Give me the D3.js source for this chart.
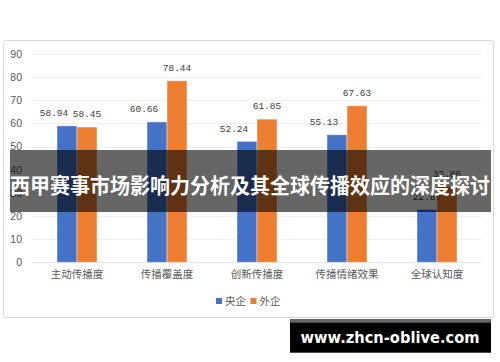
<!DOCTYPE html>
<html>
<head>
<meta charset="utf-8">
<script src="https://cdn.jsdelivr.net/npm/d3@7"></script>
<style>
  html, body { margin: 0; padding: 0; background: #fff; }
  svg { display: block; }
</style>
</head>
<body>
<svg id="chart" width="500" height="362"></svg>
<script>
// data
const categories = ['主动传播度', '传播覆盖度', '创新传播度', '传播情绪效果', '全球认知度']
const seriesNames = ['央企', '外企']
const yangqi = [58.94, 60.66, 52.24, 55.13, 22.87]
const waiqi = [58.45, 78.44, 61.85, 67.63, 32.86]
const yTicks = [0, 10, 20, 30, 40, 50, 60, 70, 80, 90]
const title = '西甲赛事市场影响力分析及其全球传播效应的深度探讨'
const watermark = 'www.zhcn-oblive.com'

const colors = ['#4472C4', '#ED7D31']
const cjk = '"Noto Sans CJK SC", "Noto Sans", sans-serif'
const plot = { left: 32, right: 482, top: 54, bottom: 262.3 }

const svg = d3.select('#chart')

// chart frame
svg.append('rect')
    .attr('x', 3.5).attr('y', 40.5)
    .attr('width', 490).attr('height', 277)
    .attr('rx', 2)
    .attr('fill', '#fff')
    .attr('stroke', '#d9d9d9')

const x = d3.scaleBand()
    .domain(categories)
    .range([plot.left, plot.right])
    .paddingInner(5 / 9)
    .paddingOuter(5 / 18)

const xs = d3.scaleBand()
    .domain(seriesNames)
    .range([0, x.bandwidth()])

const y = d3.scaleLinear()
    .domain([0, 90])
    .range([plot.bottom, plot.top])

// gridlines
svg.append('g')
    .selectAll('line')
    .data(yTicks)
    .join('line')
    .attr('x1', plot.left).attr('x2', plot.right)
    .attr('y1', d => Math.round(y(d)) + 0.5)
    .attr('y2', d => Math.round(y(d)) + 0.5)
    .attr('stroke', d => d === 0 ? '#e6e6e6' : '#f0f0f0')

// y axis labels
const yAxis = svg.append('g')
    .attr('transform', `translate(${plot.left - 10},0)`)
    .call(d3.axisLeft(y).tickValues(yTicks).tickSize(0).tickPadding(0))
yAxis.select('.domain').remove()
yAxis.selectAll('text')
    .attr('fill', '#595959')
    .style('font-family', '"Liberation Sans", Arial, sans-serif')
    .style('font-size', '10.5px')

// x axis labels
const xAxis = svg.append('g')
    .attr('transform', `translate(0,${plot.bottom + 8})`)
    .call(d3.axisBottom(x).tickSize(0).tickPadding(0))
xAxis.select('.domain').remove()
xAxis.selectAll('text')
    .attr('fill', '#595959')
    .style('font-family', cjk)
    .style('font-size', '10.5px')

// bars
const rows = categories.map((c, i) => ({ cat: c, values: [yangqi[i], waiqi[i]] }))

const groups = svg.append('g')
    .selectAll('g')
    .data(rows)
    .join('g')
    .attr('transform', d => `translate(${x(d.cat)},0)`)

groups.selectAll('rect')
    .data(d => d.values.map((v, j) => ({ key: seriesNames[j], value: v, j })))
    .join('rect')
    .attr('x', d => xs(d.key))
    .attr('y', d => y(d.value))
    .attr('width', xs.bandwidth())
    .attr('height', d => plot.bottom - y(d.value))
    .attr('fill', d => colors[d.j])
    .attr('stroke', '#fff')
    .attr('stroke-opacity', 0.45)

// data labels (blue labels nudge left like the original when there is room above)
groups.selectAll('text')
    .data(d => d.values.map((v, j) => ({ key: seriesNames[j], value: v, j, other: d.values[1 - j] })))
    .join('text')
    .attr('x', d => xs(d.key) + xs.bandwidth() / 2 - (d.j === 0 && d.value > 40 ? 13 : 0))
    .attr('y', d => y(d.value) - 13)
    .attr('dy', '0.35em')
    .attr('text-anchor', 'middle')
    .attr('fill', '#404040')
    .style('font-family', '"Liberation Mono", "DejaVu Sans Mono", monospace')
    .style('font-size', '9.5px')
    .text(d => d3.format('.2f')(d.value))

// legend
const legend = svg.append('g')
    .selectAll('g')
    .data(seriesNames)
    .join('g')
    .attr('transform', (d, i) => `translate(${216 + i * 34.5},301)`)
legend.append('rect')
    .attr('x', 0).attr('y', -3)
    .attr('width', 6).attr('height', 6)
    .attr('fill', (d, i) => colors[i])
legend.append('text')
    .attr('x', 9).attr('dy', '0.35em')
    .attr('fill', '#595959')
    .style('font-family', cjk)
    .style('font-size', '10.5px')
    .text(d => d)

// title banner
svg.append('rect')
    .attr('x', 10).attr('y', 150)
    .attr('width', 481).attr('height', 62)
    .attr('fill', '#000')
    .attr('fill-opacity', 0.6)
svg.append('text')
    .attr('x', 250).attr('y', 186)
    .attr('dy', '0.35em')
    .attr('text-anchor', 'middle')
    .attr('fill', '#fff')
    .style('font-family', cjk)
    .style('font-weight', 'bold')
    .style('font-size', '21px')
    .attr('textLength', 480)
    .attr('lengthAdjust', 'spacingAndGlyphs')
    .text(title)

// watermark
svg.append('rect')
    .attr('x', 290).attr('y', 319)
    .attr('width', 201).attr('height', 4)
    .attr('fill', '#666')
svg.append('rect')
    .attr('x', 290).attr('y', 322.7)
    .attr('width', 201).attr('height', 30)
    .attr('fill', '#000')
svg.append('text')
    .attr('x', 390).attr('y', 337.5)
    .attr('dy', '0.35em')
    .attr('text-anchor', 'middle')
    .attr('fill', '#fff')
    .style('font-family', '"DejaVu Sans", sans-serif')
    .style('font-weight', 'bold')
    .style('font-size', '16px')
    .attr('textLength', 179)
    .attr('lengthAdjust', 'spacingAndGlyphs')
    .text(watermark)
</script>
</body>
</html>
